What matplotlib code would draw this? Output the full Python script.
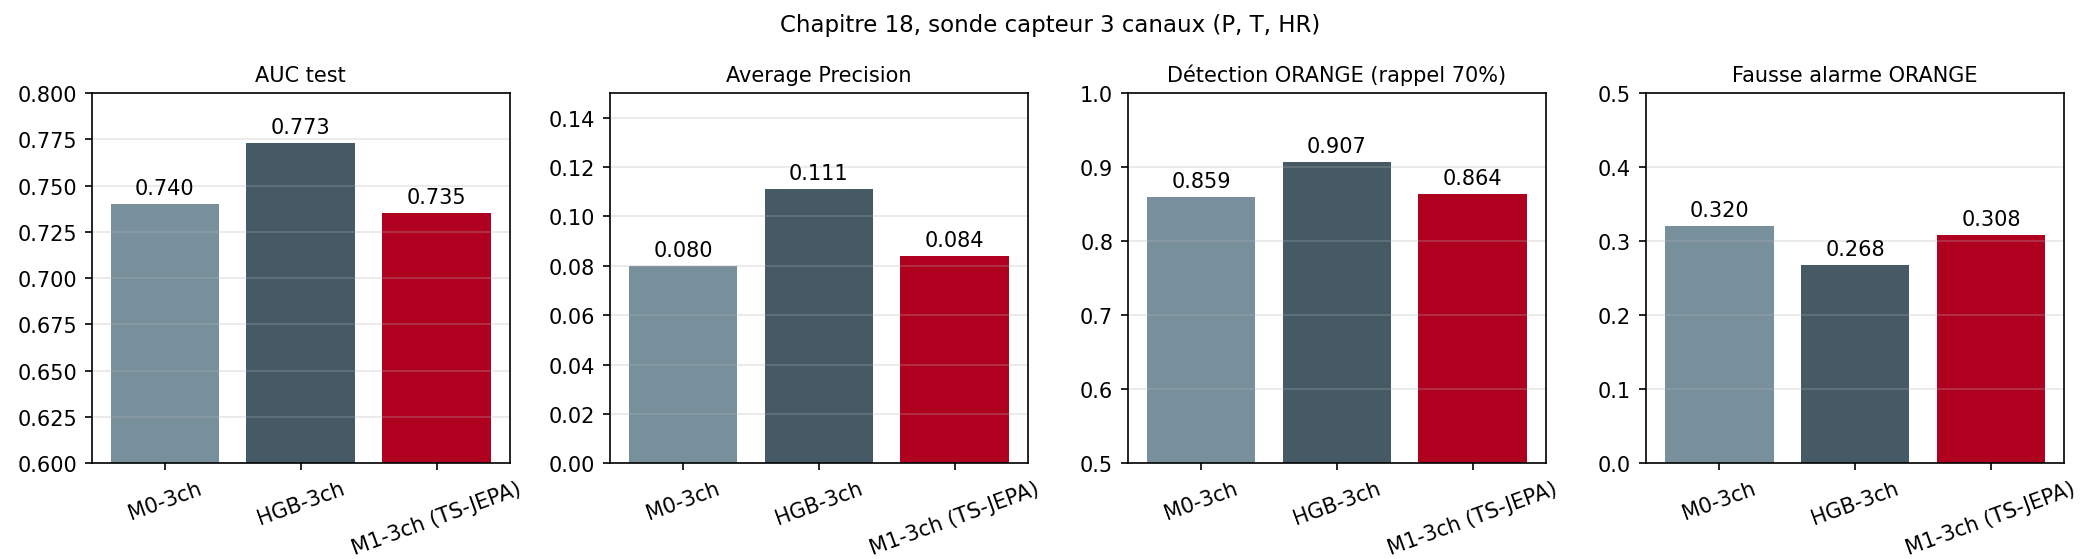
import matplotlib
matplotlib.use("Agg")
import matplotlib.pyplot as plt
from matplotlib.ticker import MultipleLocator

models = ["M0-3ch", "HGB-3ch", "M1-3ch (TS-JEPA)"]
colors = ["#78909C", "#455A64", "#B00020"]

titles = ["AUC test", "Average Precision", "Détection ORANGE (rappel 70%)", "Fausse alarme ORANGE"]
auc = [0.740, 0.773, 0.735]
ap = [0.080, 0.111, 0.084]
detection = [0.859, 0.907, 0.864]
fausse_alarme = [0.320, 0.268, 0.308]
ylims = [(0.6, 0.8), (0.0, 0.15), (0.5, 1.0), (0.0, 0.5)]

series = [auc, ap, detection, fausse_alarme]

fig, axes = plt.subplots(1, 4, figsize=(14, 3.7333), dpi=150)
fig.subplots_adjust(left=0.0436, right=0.983, top=0.832, bottom=0.171, wspace=0.238)
fig.suptitle("Chapitre 18, sonde capteur 3 canaux (P, T, HR)", fontsize=11, y=0.975)

for i, (ax, title, vals, yl) in enumerate(zip(axes, titles, series, ylims)):
    bars = ax.bar(models, vals, color=colors, width=0.8)
    ax.set_ylim(*yl)
    if i == 0:
        ax.yaxis.set_major_locator(MultipleLocator(0.025))
    ax.set_title(title, fontsize=10)
    ax.grid(axis="y", alpha=0.3)
    ax.bar_label(bars, fmt="%.3f", padding=3)
    ax.tick_params(axis="x", labelrotation=20)

fig.savefig("out.png", dpi=150)
